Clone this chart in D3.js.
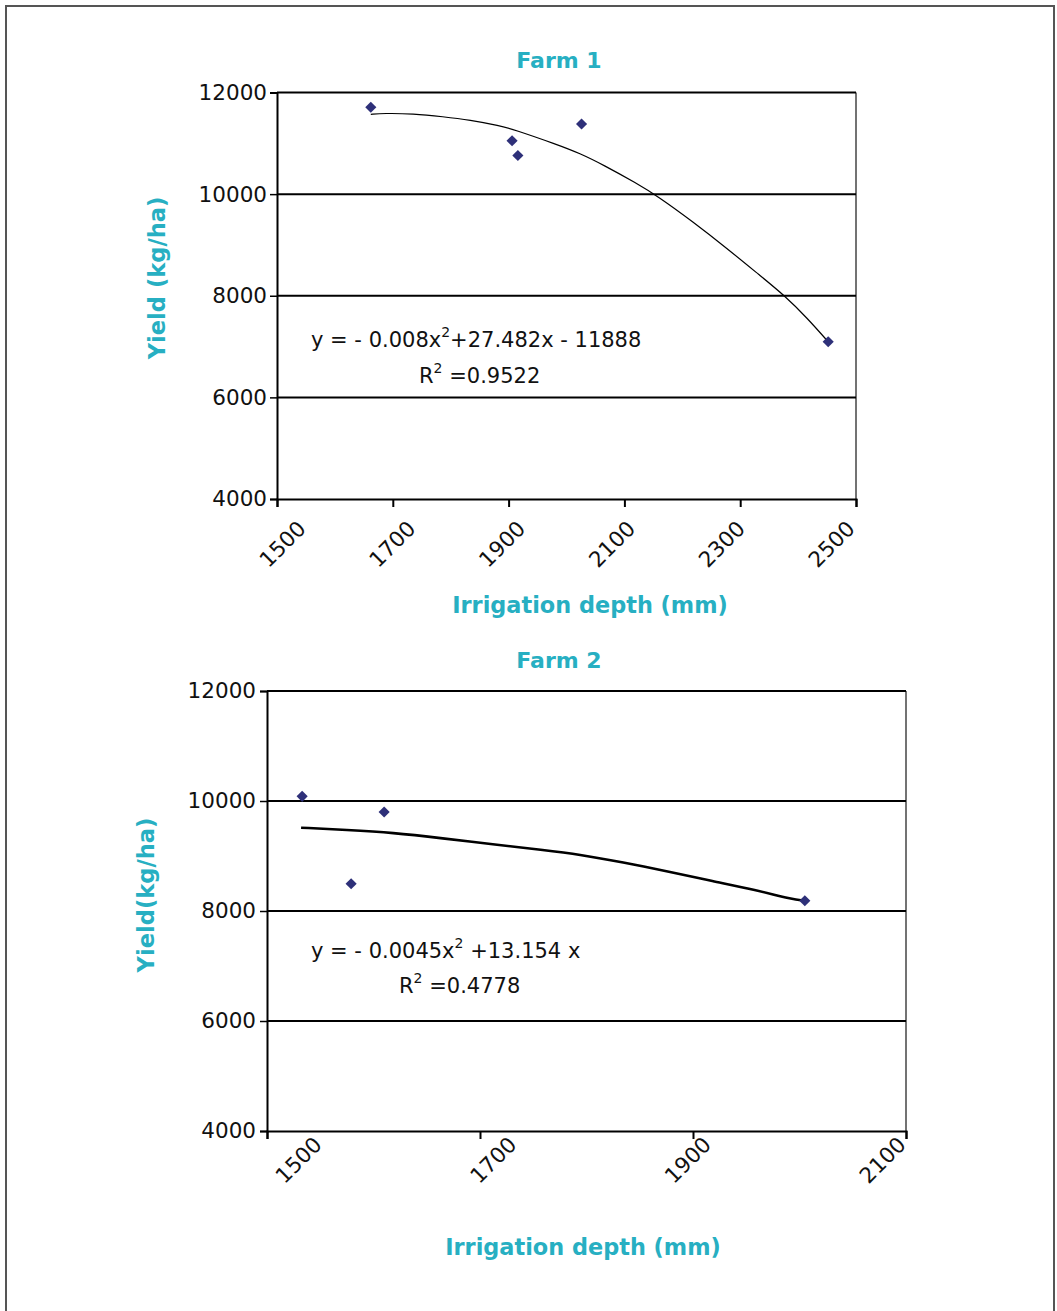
<!DOCTYPE html>
<html lang="en">
<head>
    <meta charset="UTF-8">
    <title>Irrigation depth vs yield</title>
    <script src="https://d3js.org/d3.v7.min.js"></script>
    <style>
        body { margin: 0; background: #fff; }
        text { font-family: "DejaVu Sans", Verdana, sans-serif; }
        .tick text { font-size: 21.5px; fill: #111; }
        .title, .axis-title { font-weight: bold; fill: #27afc2; }
        .eq { font-size: 21px; fill: #111; }
    </style>
</head>
<body>
<svg width="1057" height="1311"></svg>
<script>
    // data
    const yTicks = [4000, 6000, 8000, 10000, 12000];

    const farm1Ticks = [1500, 1700, 1900, 2100, 2300, 2500];
    const farm1Irrigation = [1662, 1906, 1916, 2026, 2452];
    const farm1Yield = [11710, 11050, 10760, 11380, 7095];
    const farm1TrendIrrigation = [1662, 1684, 1735, 1787, 1833, 1885, 1908, 1983, 2023, 2064, 2121, 2156, 2219, 2277, 2334, 2377, 2415, 2452];
    const farm1TrendYield = [11571, 11591, 11583, 11524, 11459, 11346, 11276, 10980, 10803, 10573, 10213, 9969, 9450, 8933, 8400, 8000, 7570, 7094];

    const farm2Ticks = [1500, 1700, 1900, 2100];
    const farm2Irrigation = [1533, 1579, 1610, 2005];
    const farm2Yield = [10085, 8496, 9800, 8187];
    const farm2TrendIrrigation = [1532, 1575, 1618, 1665, 1712, 1759, 1793, 1834, 1878, 1918, 1959, 1993, 2005];
    const farm2TrendYield = [9515, 9473, 9424, 9322, 9213, 9109, 9031, 8885, 8715, 8545, 8382, 8213, 8187];

    const svg = d3.select("svg");

    // outer frame
    svg.append("rect")
        .attr("x", 6).attr("y", 6)
        .attr("width", 1048).attr("height", 1330)
        .attr("fill", "none")
        .attr("stroke", "#555")
        .attr("stroke-width", 2);

    function drawChart(c) {
        const x = d3.scaleLinear().domain([c.xTicks[0], c.xTicks[c.xTicks.length - 1]]).range([c.left, c.right]);
        const y = d3.scaleLinear().domain([4000, 12000]).range([c.bottom, c.top]);
        // Excel spreads the rotated labels a bit narrower than the ticks
        const xLab = d3.scaleLinear().domain(x.domain()).range([c.left + c.labShift[0], c.right + c.labShift[1]]);

        // right edge of plot area
        svg.append("line")
            .attr("x1", c.right).attr("x2", c.right)
            .attr("y1", c.top).attr("y2", c.bottom)
            .attr("stroke", "#444").attr("stroke-width", 1.5);

        // gridlines
        svg.append("g").selectAll("line")
            .data(yTicks.slice(1))
            .join("line")
            .attr("x1", c.left).attr("x2", c.right)
            .attr("y1", d => y(d)).attr("y2", d => y(d))
            .attr("stroke", "#000").attr("stroke-width", 2);

        const yAxis = svg.append("g")
            .attr("transform", "translate(" + c.left + ",0)")
            .call(d3.axisLeft(y).tickValues(yTicks).tickFormat(d3.format("d")).tickSize(7).tickPadding(c.yPad));
        yAxis.select(".domain").attr("stroke-width", 2);
        yAxis.selectAll(".tick line").attr("stroke-width", 1.5);
        yAxis.selectAll(".tick text").attr("font-family", null);

        const xAxis = svg.append("g")
            .attr("transform", "translate(0," + c.bottom + ")")
            .call(d3.axisBottom(x).tickValues(c.xTicks).tickFormat(d3.format("d")).tickSize(8));
        xAxis.select(".domain").attr("stroke-width", 2);
        xAxis.selectAll(".tick line").attr("stroke-width", 2);
        xAxis.selectAll(".tick text")
            .attr("font-family", null)
            .attr("y", 0).attr("dy", "0.35em")
            .attr("text-anchor", "middle")
            .attr("transform", d => "translate(" + (xLab(d) - x(d)) + "," + c.labDown + ") rotate(-45)");

        // trendline
        const line = d3.line()
            .x(d => x(d[0]))
            .y(d => y(d[1]))
            .curve(d3.curveBasis);
        svg.append("path")
            .datum(d3.zip(c.trendX, c.trendY))
            .attr("d", line)
            .attr("fill", "none")
            .attr("stroke", "#000")
            .attr("stroke-width", c.trendWidth);

        // points
        svg.append("g").selectAll("path")
            .data(d3.zip(c.px, c.py))
            .join("path")
            .attr("d", d3.symbol(d3.symbolSquare, 62))
            .attr("transform", d => "translate(" + x(d[0]) + "," + y(d[1]) + ") rotate(45)")
            .attr("fill", "#2e3079");

        // titles
        svg.append("text")
            .attr("class", "title")
            .attr("x", c.titleX).attr("y", c.titleY)
            .attr("text-anchor", "middle")
            .attr("font-size", 22)
            .text(c.title);
        svg.append("text")
            .attr("class", "axis-title")
            .attr("x", c.xTitleX).attr("y", c.xTitleY)
            .attr("text-anchor", "middle")
            .attr("font-size", 22.4)
            .text("Irrigation depth (mm)");
        svg.append("text")
            .attr("class", "axis-title")
            .attr("transform", "translate(" + c.yTitleX + "," + c.yTitleY + ") rotate(-90)")
            .attr("text-anchor", "middle")
            .attr("font-size", 22.6)
            .text(c.yTitle);

        // equation
        const eq = svg.append("text").attr("class", "eq").attr("x", c.eqX).attr("y", c.eqY);
        eq.append("tspan").text(c.eq[0]);
        eq.append("tspan").attr("dy", -10).attr("font-size", 14).text("2");
        eq.append("tspan").attr("dy", 10).text(c.eq[1]);

        const r2 = svg.append("text").attr("class", "eq").attr("x", c.r2X).attr("y", c.r2Y);
        r2.append("tspan").text("R");
        r2.append("tspan").attr("dy", -10).attr("font-size", 14).text("2");
        r2.append("tspan").attr("dy", 10).text(" =" + c.r2);
    }

    drawChart({
        title: "Farm 1", titleX: 559, titleY: 68,
        xTicks: farm1Ticks,
        left: 277, right: 856, top: 92.5, bottom: 499,
        yPad: 3, labShift: [5, -25], labDown: 45,
        px: farm1Irrigation, py: farm1Yield,
        trendX: farm1TrendIrrigation, trendY: farm1TrendYield, trendWidth: 1.2,
        xTitleX: 590, xTitleY: 613,
        yTitle: "Yield (kg/ha)", yTitleX: 165, yTitleY: 278,
        eq: ["y = - 0.008x", "+27.482x - 11888"], eqX: 311, eqY: 347,
        r2: "0.9522", r2X: 419, r2Y: 383
    });

    drawChart({
        title: "Farm 2", titleX: 559, titleY: 668,
        xTicks: farm2Ticks,
        left: 267, right: 906, top: 691, bottom: 1131,
        yPad: 4, labShift: [31, -24], labDown: 29,
        px: farm2Irrigation, py: farm2Yield,
        trendX: farm2TrendIrrigation, trendY: farm2TrendYield, trendWidth: 2.6,
        xTitleX: 583, xTitleY: 1255,
        yTitle: "Yield(kg/ha)", yTitleX: 154, yTitleY: 895,
        eq: ["y = - 0.0045x", " +13.154 x"], eqX: 311, eqY: 958,
        r2: "0.4778", r2X: 399, r2Y: 993
    });
</script>
</body>
</html>
